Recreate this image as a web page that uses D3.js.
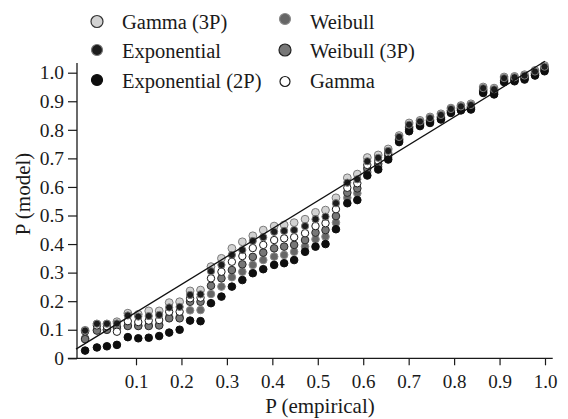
<!DOCTYPE html>
<html><head><meta charset="utf-8">
<script src="https://cdn.jsdelivr.net/npm/d3@7"></script>
<style>body{margin:0;background:#fff}svg{display:block}text{font-family:"Liberation Serif","Times New Roman",serif;fill:#1a1a1a}</style>
</head><body><svg id="c" width="568" height="419"></svg>
<script>
// ---- data ----
const pEmpirical = [-0.012,0.014,0.036,0.058,0.082,0.105,0.128,0.151,0.173,0.196,0.219,0.242,0.265,0.288,0.311,0.334,0.357,0.380,0.404,0.426,0.448,0.472,0.495,0.517,0.540,0.565,0.587,0.609,0.633,0.655,0.679,0.701,0.725,0.747,0.771,0.793,0.815,0.837,0.864,0.888,0.910,0.933,0.955,0.978,0.999];
const gamma3P = [0.098,0.120,0.120,0.128,0.158,0.154,0.166,0.166,0.195,0.198,0.236,0.239,0.321,0.350,0.385,0.408,0.429,0.449,0.463,0.467,0.475,0.487,0.511,0.519,0.562,0.632,0.645,0.703,0.712,0.733,0.780,0.824,0.833,0.845,0.856,0.876,0.885,0.891,0.950,0.946,0.985,0.987,0.993,1.008,1.025];
const exponential = [0.097,0.121,0.121,0.122,0.150,0.146,0.148,0.152,0.178,0.180,0.222,0.224,0.305,0.327,0.362,0.379,0.411,0.424,0.443,0.446,0.449,0.463,0.487,0.496,0.543,0.615,0.627,0.690,0.702,0.726,0.775,0.818,0.829,0.841,0.852,0.873,0.882,0.887,0.946,0.942,0.981,0.984,0.990,1.004,1.021];
const gamma = [0.094,0.115,0.112,0.093,0.130,0.127,0.132,0.134,0.163,0.163,0.210,0.212,0.280,0.303,0.338,0.358,0.386,0.397,0.414,0.420,0.424,0.438,0.463,0.473,0.522,0.597,0.613,0.677,0.692,0.718,0.771,0.812,0.825,0.837,0.848,0.869,0.878,0.883,0.942,0.937,0.978,0.980,0.986,1.001,1.017];
const weibull3P = [0.067,0.097,0.100,0.110,0.113,0.113,0.113,0.115,0.140,0.140,0.198,0.198,0.254,0.280,0.309,0.329,0.355,0.370,0.385,0.391,0.397,0.414,0.440,0.449,0.498,0.580,0.595,0.665,0.681,0.711,0.766,0.807,0.821,0.832,0.844,0.866,0.875,0.879,0.937,0.933,0.974,0.977,0.983,0.997,1.013];
const weibull = [0.070,0.100,0.100,0.105,0.115,0.115,0.116,0.118,0.145,0.145,0.168,0.169,0.225,0.251,0.284,0.303,0.327,0.344,0.356,0.362,0.373,0.391,0.417,0.426,0.475,0.562,0.578,0.652,0.671,0.703,0.762,0.801,0.817,0.828,0.840,0.862,0.871,0.875,0.933,0.928,0.971,0.973,0.979,0.994,1.009];
const exponential2P = [0.027,0.038,0.042,0.047,0.074,0.070,0.072,0.078,0.090,0.100,0.132,0.130,0.193,0.216,0.251,0.274,0.298,0.312,0.327,0.333,0.344,0.373,0.391,0.400,0.452,0.543,0.554,0.640,0.661,0.696,0.757,0.795,0.813,0.824,0.836,0.859,0.868,0.871,0.929,0.924,0.967,0.970,0.976,0.990,1.005];
const refLineX = [-0.032, 1.0];
const refLineY = [0.032, 1.04];
const yTicks = [0,0.1,0.2,0.3,0.4,0.5,0.6,0.7,0.8,0.9,1.0];
const yTickLabels = ["0","0.1","0.2","0.3","0.4","0.5","0.6","0.7","0.8","0.9","1.0"];
const xTicks = [0.1,0.2,0.3,0.4,0.5,0.6,0.7,0.8,0.9,1.0];
const xTickLabels = ["0.1","0.2","0.3","0.4","0.5","0.6","0.7","0.8","0.9","1.0"];
const seriesNames = ["Gamma (3P)","Exponential","Exponential (2P)","Weibull","Weibull (3P)","Gamma"];

// ---- styles ----
const styles = {
  "Gamma (3P)":       {fill:"#d2d2d2", stroke:"#7a7a7a", r:3.9, lr:6, lstroke:"#333"},
  "Exponential":      {fill:"#1c1c1c", stroke:"#7a7a7a", r:3.6, lr:5.5, lstroke:"#777"},
  "Exponential (2P)": {fill:"#0e0e0e", stroke:"#0e0e0e", r:3.8, lr:5.5, lstroke:"#0e0e0e"},
  "Weibull":          {fill:"#666666", stroke:"#8a8a8a", r:3.8, lr:5.5, lstroke:"#8a8a8a"},
  "Weibull (3P)":     {fill:"#777777", stroke:"#2a2a2a", r:3.8, lr:6, lstroke:"#222"},
  "Gamma":            {fill:"#ffffff", stroke:"#1a1a1a", r:3.7, lr:5, lstroke:"#1a1a1a"}
};
const seriesData = {
  "Gamma (3P)": gamma3P, "Exponential": exponential, "Exponential (2P)": exponential2P,
  "Weibull": weibull, "Weibull (3P)": weibull3P, "Gamma": gamma
};

const svg = d3.select("#c");
const x = d3.scaleLinear().domain([0,1]).range([90.56,545]);
const y = d3.scaleLinear().domain([0,1]).range([358.3,72.7]);

// axes lines
svg.append("line").attr("x1",x(-0.05)).attr("x2",x(1.017)).attr("y1",y(0)).attr("y2",y(0)).attr("stroke","#1a1a1a").attr("stroke-width",1.3);
svg.append("line").attr("x1",77).attr("x2",77).attr("y1",y(0)).attr("y2",y(1.034)).attr("stroke","#1a1a1a").attr("stroke-width",1.3);

const ya = svg.append("g").attr("transform","translate(77,0)")
  .call(d3.axisLeft(y).tickValues(yTicks).tickSize(9).tickPadding(4).tickFormat((d,i)=>yTickLabels[i]));
ya.select(".domain").remove();
ya.selectAll("line").attr("stroke","#1a1a1a").attr("stroke-width",1.2);
ya.selectAll("text").attr("font-size",19.5).attr("font-family","Liberation Serif").attr("fill","#1a1a1a");

const xa = svg.append("g").attr("transform",`translate(0,${y(0)})`)
  .call(d3.axisBottom(x).tickValues(xTicks).tickSize(7).tickPadding(9).tickFormat((d,i)=>xTickLabels[i]));
xa.select(".domain").remove();
xa.selectAll("line").attr("stroke","#1a1a1a").attr("stroke-width",1.2);
xa.selectAll("text").attr("font-size",19).attr("font-family","Liberation Serif").attr("fill","#1a1a1a");

// titles
svg.append("text").attr("x",320).attr("y",413).attr("text-anchor","middle").attr("font-size",21).text("P (empirical)");
svg.append("text").attr("transform","translate(30,194) rotate(-90)").attr("text-anchor","middle").attr("font-size",21).text("P (model)");

// points
const drawOrder = ["Gamma (3P)","Weibull","Weibull (3P)","Gamma","Exponential (2P)","Exponential"];
drawOrder.forEach(name=>{
  const st = styles[name];
  svg.append("g").selectAll("circle").data(seriesData[name]).join("circle")
    .attr("cx",(d,i)=>x(pEmpirical[i])).attr("cy",d=>y(d)).attr("r",st.r)
    .attr("fill",st.fill).attr("stroke",st.stroke).attr("stroke-width",1);
});

// reference line
svg.append("path").datum(refLineX.map((v,i)=>[v,refLineY[i]]))
  .attr("d",d3.line().x(d=>x(d[0])).y(d=>y(d[1])))
  .attr("stroke","#111").attr("stroke-width",1.3).attr("fill","none");

// legend
const legendPos = [
  {name:"Gamma (3P)", mx:97, my:21.5, tx:122, ty:29},
  {name:"Exponential", mx:97, my:50, tx:122, ty:58},
  {name:"Exponential (2P)", mx:97, my:80, tx:122, ty:88},
  {name:"Weibull", mx:285, my:19, tx:310, ty:29},
  {name:"Weibull (3P)", mx:285, my:50, tx:310, ty:58},
  {name:"Gamma", mx:285, my:81.5, tx:310, ty:88}
];
const lg = svg.append("g");
legendPos.forEach(p=>{
  const st = styles[p.name];
  lg.append("circle").attr("cx",p.mx).attr("cy",p.my).attr("r",st.lr).attr("fill",st.fill).attr("stroke",st.lstroke).attr("stroke-width",1.2);
  lg.append("text").attr("x",p.tx).attr("y",p.ty).attr("font-size",20.5).text(p.name);
});
</script></body></html>
